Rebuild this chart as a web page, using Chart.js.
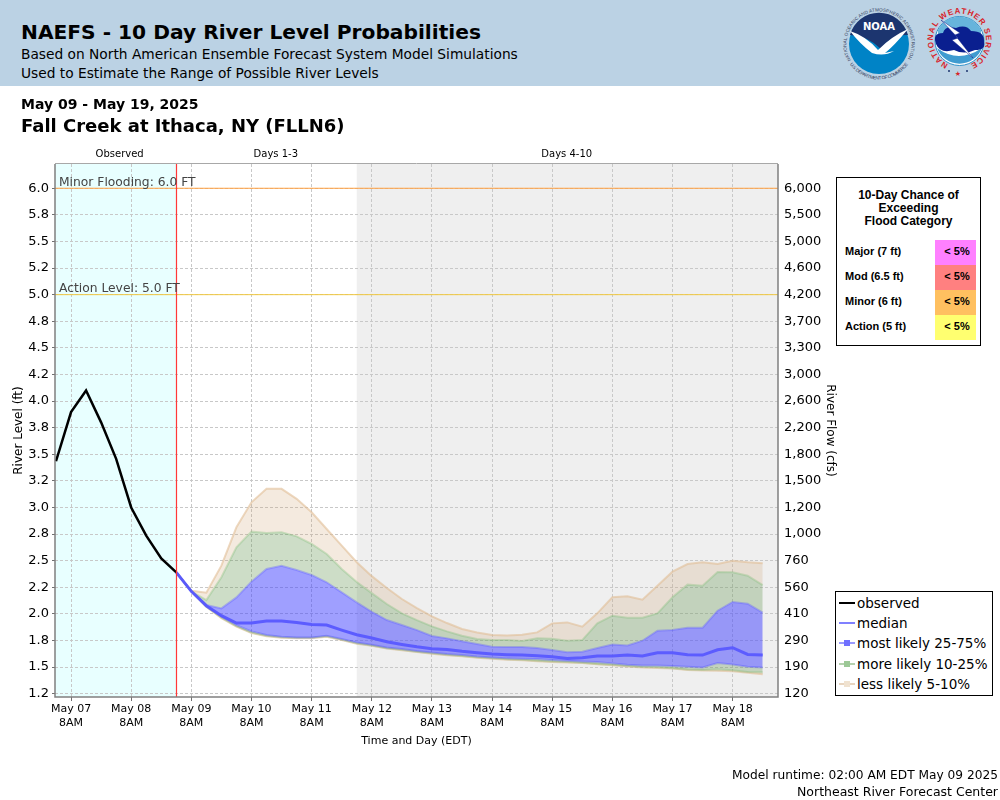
<!DOCTYPE html>
<html>
<head>
<meta charset="utf-8">
<title>NAEFS - 10 Day River Level Probabilities</title>
<script src="https://cdn.jsdelivr.net/npm/chart.js@4/dist/chart.umd.min.js"></script>
<style>
    html, body { margin: 0; padding: 0; background: #fff; }
    body { width: 1000px; height: 800px; position: relative; overflow: hidden; font-family: "DejaVu Sans", sans-serif; color: #000; }
    canvas { position: absolute; left: 0; top: 0; }
    .abs { position: absolute; white-space: nowrap; }
    #header { position: absolute; left: 0; top: 0; width: 1000px; height: 86px; background: #bbd2e4; }
    #logos { position: absolute; left: 830px; top: 0; }

    /* kotak peluang banjir */
    #floodBox { position: absolute; left: 836px; top: 177px; width: 143px; height: 167px; border: 1px solid #000; background: #fff; font-family: "Liberation Sans", sans-serif; font-weight: bold; font-size: 12px; }
    #floodBox .head { position: absolute; left: 0; width: 100%; top: 11px; text-align: center; line-height: 13px; }
    #floodBox .name { position: absolute; left: 8px; font-size: 11px; line-height: 23px; }
    #floodBox .pct { position: absolute; left: 98px; width: 38px; padding-left: 3px; height: 25.3px; font-size: 11px; line-height: 23px; text-align: center; }

    /* legend */
    #legendBox { position: absolute; left: 835px; top: 591px; width: 156px; height: 103px; border: 1px solid #000; background: #fff; font-size: 13.5px; }
    #legendBox .row { position: absolute; left: 21px; line-height: 20px; white-space: nowrap; }
    #legendBox .line { position: absolute; left: 3px; width: 16px; height: 2px; }
    #legendBox .box { position: absolute; left: 8px; width: 6px; height: 6px; }
</style>
</head>
<body>
<canvas id="chartNaefs" width="1000" height="800"></canvas>

<div id="header"></div>
<div class="abs" style="left:21px;top:20px;font-size:20.2px;font-weight:bold;">NAEFS - 10 Day River Level Probabilities</div>
<div class="abs" style="left:21px;top:46px;font-size:13.75px;">Based on North American Ensemble Forecast System Model Simulations</div>
<div class="abs" style="left:21px;top:65px;font-size:13.75px;">Used to Estimate the Range of Possible River Levels</div>
<div class="abs" style="left:21px;top:96px;font-size:14px;font-weight:bold;">May 09 - May 19, 2025</div>
<div class="abs" style="left:21px;top:115px;font-size:18px;font-weight:bold;">Fall Creek at Ithaca, NY (FLLN6)</div>
<div class="abs" style="right:2px;top:768px;font-size:12.2px;">Model runtime: 02:00 AM EDT May 09 2025</div>
<div class="abs" style="right:2px;top:784px;font-size:12.5px;">Northeast River Forecast Center</div>

<!-- logo NOAA dan NWS, digambar seadanya -->
<svg id="logos" width="170" height="86" viewBox="0 0 170 86">
    <defs>
        <path id="noaaTop" d="M 20.9 60.25 A 32.5 32.5 0 1 1 77.1 60.25"/>
        <path id="noaaBottom" d="M 18.3 61.75 A 35.5 35.5 0 0 0 79.7 61.75"/>
        <path id="nwsRing" d="M 118.3 64 A 26.5 26.5 0 1 1 140.7 64"/>
    </defs>
    <text font-family="Liberation Sans" font-size="4.6" fill="#33405c"><textPath href="#noaaTop" textLength="134">NATIONAL OCEANIC AND ATMOSPHERIC ADMINISTRATION</textPath></text>
    <text font-family="Liberation Sans" font-size="4.6" fill="#33405c"><textPath href="#noaaBottom" startOffset="4%" textLength="68">U.S. DEPARTMENT OF COMMERCE</textPath></text>
    <circle cx="49" cy="44" r="30" fill="#0083c6"/>
    <path d="M 20 35 A 30 30 0 0 1 78 35 Q 62 34 51 49 Q 38 36 20 35 Z" fill="#1c356f"/>
    <path d="M 20 31 Q 36 36 48 50 Q 62 36 78 29 Q 64 46 55 53 L 64 51 Q 54 57 42 53 Q 30 44 20 31 Z" fill="#fff"/>
    <text x="49" y="30" text-anchor="middle" font-family="DejaVu Sans" font-weight="bold" font-size="10" fill="#fff">NOAA</text>

    <text font-family="Liberation Sans" font-weight="bold" font-size="8" fill="#d8232a"><textPath href="#nwsRing" textLength="143">NATIONAL WEATHER SERVICE</textPath></text>
    <circle cx="129.5" cy="41" r="24.5" fill="#fff" stroke="#2f8fc8" stroke-width="1"/>
    <path d="M 108 30 A 24 24 0 0 1 151 30 L 151 45 L 108 45 Z" fill="#67b4dc"/>
    <path d="M 107 48 A 24 24 0 0 0 152 48 Q 140 56 129 56 Q 118 56 107 48 Z" fill="#3f9bd0"/>
    <path d="M 106 44 Q 102 33 113 33 Q 115 25 126 28 Q 136 24 141 31 Q 155 31 154 42 Q 156 50 145 50 Q 134 55 124 50 Q 110 54 106 44 Z" fill="#0a1f8f"/>
    <path d="M 111 20 L 130 33 L 125 35 L 143 58 L 122 40 L 128 38 Z" fill="#fff" stroke="#0a1f8f" stroke-width="0.5"/>
    <text x="128" y="76" text-anchor="middle" font-size="7" fill="#d8232a">★</text>
    <circle cx="119" cy="71" r="1" fill="#1c356f"/>
    <circle cx="137" cy="71" r="1" fill="#1c356f"/>
</svg>

<div id="floodBox">
    <div class="head">10-Day Chance of<br>Exceeding<br>Flood Category</div>
</div>

<div id="legendBox"></div>

<script>
// ==========================
// DATA
// ==========================
// jam dihitung dari May 07 8AM
const observedHours = [-6, 0, 6, 12, 18, 24, 30, 36, 42];
const observedLevel = [3.435, 3.896, 4.10, 3.80, 3.457, 3.00, 2.736, 2.522, 2.39];

const forecastHours = [42, 48, 54, 60, 66, 72, 78, 84, 90, 96, 102, 108, 114, 120, 126, 132, 138, 144, 150, 156,
    162, 168, 174, 180, 186, 192, 198, 204, 210, 216, 222, 228, 234, 240, 246, 252, 258, 264, 270, 276];

const p95 = [2.39, 2.218, 2.199, 2.453, 2.814, 3.049, 3.175, 3.175, 3.081, 2.955, 2.798, 2.642, 2.485, 2.355, 2.243, 2.14, 2.055, 1.977, 1.914, 1.858,
    1.826, 1.801, 1.798, 1.804, 1.826, 1.911, 1.92, 1.88, 2.005, 2.156, 2.165, 2.134, 2.265, 2.397, 2.469, 2.485, 2.469, 2.5, 2.485, 2.475];
const p90 = [2.39, 2.212, 2.13, 2.344, 2.626, 2.773, 2.761, 2.767, 2.729, 2.657, 2.563, 2.422, 2.30, 2.195, 2.093, 2.005, 1.942, 1.883, 1.836, 1.795,
    1.764, 1.754, 1.754, 1.745, 1.77, 1.767, 1.748, 1.754, 1.911, 1.983, 1.964, 1.964, 2.005, 2.156, 2.275, 2.265, 2.394, 2.391, 2.359, 2.271];
const p75 = [2.39, 2.212, 2.083, 2.052, 2.155, 2.303, 2.422, 2.453, 2.413, 2.366, 2.297, 2.203, 2.108, 2.02, 1.942, 1.895, 1.848, 1.792, 1.77, 1.742,
    1.717, 1.691, 1.688, 1.688, 1.679, 1.66, 1.64, 1.644, 1.679, 1.713, 1.704, 1.748, 1.842, 1.848, 1.87, 1.87, 2.03, 2.112, 2.096, 2.011];
const p50 = [2.39, 2.212, 2.077, 1.983, 1.914, 1.914, 1.933, 1.933, 1.92, 1.901, 1.895, 1.848, 1.804, 1.773, 1.738, 1.713, 1.691, 1.673, 1.666, 1.648,
    1.635, 1.622, 1.616, 1.613, 1.607, 1.597, 1.582, 1.588, 1.604, 1.604, 1.613, 1.604, 1.635, 1.635, 1.616, 1.613, 1.663, 1.682, 1.619, 1.613];
const p25 = [2.39, 2.212, 2.071, 1.974, 1.895, 1.836, 1.801, 1.785, 1.779, 1.779, 1.795, 1.764, 1.732, 1.71, 1.685, 1.669, 1.651, 1.638, 1.622, 1.613,
    1.60, 1.591, 1.582, 1.579, 1.575, 1.566, 1.56, 1.553, 1.547, 1.535, 1.522, 1.516, 1.516, 1.51, 1.503, 1.497, 1.538, 1.525, 1.503, 1.497];
const p10 = [2.39, 2.212, 2.068, 1.965, 1.885, 1.825, 1.795, 1.78, 1.775, 1.775, 1.79, 1.758, 1.725, 1.703, 1.678, 1.662, 1.645, 1.63, 1.615, 1.605,
    1.592, 1.583, 1.574, 1.568, 1.56, 1.553, 1.548, 1.542, 1.53, 1.522, 1.51, 1.50, 1.498, 1.49, 1.477, 1.472, 1.48, 1.47, 1.455, 1.452];
const p05 = [2.39, 2.212, 2.066, 1.96, 1.88, 1.82, 1.79, 1.776, 1.772, 1.772, 1.786, 1.754, 1.72, 1.70, 1.674, 1.658, 1.641, 1.626, 1.611, 1.601,
    1.588, 1.579, 1.57, 1.564, 1.556, 1.549, 1.544, 1.538, 1.526, 1.518, 1.506, 1.496, 1.492, 1.486, 1.473, 1.468, 1.465, 1.46, 1.447, 1.432];

// tick kiri (stage) dan kanan (flow), rating-nya tidak linear jadi labelnya dibaca langsung
const stageTicks = [6, 5.75, 5.5, 5.25, 5, 4.75, 4.5, 4.25, 4, 3.75, 3.5, 3.25, 3, 2.75, 2.5, 2.25, 2, 1.75, 1.5, 1.25];
const stageLabels = ["6.0", "5.8", "5.5", "5.2", "5.0", "4.8", "4.5", "4.2", "4.0", "3.8", "3.5", "3.2", "3.0", "2.8", "2.5", "2.2", "2.0", "1.8", "1.5", "1.2"];
const flowLabels = ["6,000", "5,500", "5,000", "4,600", "4,200", "3,700", "3,300", "3,000", "2,600", "2,200", "1,800", "1,500", "1,200", "1,000", "760", "560", "410", "290", "190", "120"];

const dayTicks = [0, 24, 48, 72, 96, 120, 144, 168, 192, 216, 240, 264];
const dayLabels = ["May 07", "May 08", "May 09", "May 10", "May 11", "May 12", "May 13", "May 14", "May 15", "May 16", "May 17", "May 18"];

const minorLevel = 6.0;
const actionLevel = 5.0;
const runtimeHour = 42;
const days4Start = 114;

const floodNames = ["Major (7 ft)", "Mod (6.5 ft)", "Minor (6 ft)", "Action (5 ft)"];
const floodChances = ["< 5%", "< 5%", "< 5%", "< 5%"];
const floodColors = ["#ff80ff", "#ff8080", "#ffc060", "#ffff70"];

const legendNames = ["observed", "median", "most likely 25-75%", "more likely 10-25%", "less likely 5-10%"];
const legendLines = ["#000", "#8080ff", "#9a9aff", "#b5d1ae", "#e8d5c0"];
const legendBoxes = [null, null, "#7070ff", "#9cc896", "#f0e2d0"];

const xMin = -6.4, xMax = 282.1, yMin = 1.219, yMax = 6.228;

// warna pita
const BLUE_FILL = "rgba(64, 64, 255, 0.5)", BLUE_LINE = "rgba(90, 90, 255, 0.35)";
const GREEN_FILL = "rgba(100, 150, 80, 0.32)", GREEN_LINE = "rgba(130, 190, 120, 0.35)";
const TAN_FILL = "rgba(205, 160, 110, 0.22)", TAN_LINE = "rgba(225, 190, 150, 0.6)";
const GRID_COLOR = "#c8c8c8";

function toPoints(hours, values) {
    return hours.map((h, i) => ({ x: h, y: values[i] }));
}

function band(values, line, fillTarget, fillColor) {
    return {
        data: toPoints(forecastHours, values),
        borderColor: line,
        borderWidth: 2,
        pointRadius: 0,
        tension: 0,
        fill: fillTarget === null ? false : { target: fillTarget },
        backgroundColor: fillColor || "transparent"
    };
}

// ==========================
// PLUGIN: latar, garis runtime, label
// ==========================
const shadePlugin = {
    id: "shadePlugin",
    beforeDraw(chart) {
        const { ctx, chartArea: a, scales } = chart;
        const runX = scales.x.getPixelForValue(runtimeHour);
        const greyX = scales.x.getPixelForValue(days4Start);
        ctx.save();
        ctx.fillStyle = "#e8ffff";
        ctx.fillRect(a.left, a.top, runX - a.left, a.bottom - a.top);
        ctx.fillStyle = "#efefef";
        ctx.fillRect(greyX, a.top, a.right - greyX, a.bottom - a.top);
        ctx.restore();
    },
    afterDatasetsDraw(chart) {
        const { ctx, chartArea: a, scales } = chart;
        const runX = Math.round(scales.x.getPixelForValue(runtimeHour)) + 0.5;
        ctx.save();

        // garis runtime model
        ctx.strokeStyle = "#ff3838";
        ctx.lineWidth = 1.2;
        ctx.beginPath();
        ctx.moveTo(runX, a.top);
        ctx.lineTo(runX, a.bottom);
        ctx.stroke();

        // bingkai plot
        ctx.strokeStyle = "#a8a8a8";
        ctx.lineWidth = 1;
        ctx.beginPath();
        ctx.moveTo(a.left, a.top - 0.5);
        ctx.lineTo(a.right, a.top - 0.5);
        ctx.stroke();
        ctx.strokeStyle = "#808080";
        ctx.lineWidth = 1.5;
        ctx.beginPath();
        ctx.moveTo(a.left, a.top);
        ctx.lineTo(a.left, a.bottom);
        ctx.lineTo(a.right, a.bottom);
        ctx.lineTo(a.right, a.top);
        ctx.stroke();

        // label banjir
        ctx.fillStyle = "#444";
        ctx.font = '12.3px "DejaVu Sans"';
        ctx.textAlign = "left";
        ctx.textBaseline = "alphabetic";
        ctx.fillText("Minor Flooding: " + minorLevel.toFixed(1) + " FT", a.left + 4, scales.y.getPixelForValue(minorLevel) - 2);
        ctx.fillText("Action Level: " + actionLevel.toFixed(1) + " FT", a.left + 4, scales.y.getPixelForValue(actionLevel) - 3);

        // label periode di atas plot
        ctx.fillStyle = "#000";
        ctx.font = '10px "DejaVu Sans"';
        ctx.textAlign = "center";
        ctx.fillText("Observed", scales.x.getPixelForValue(19.4), a.top - 7);
        ctx.fillText("Days 1-3", scales.x.getPixelForValue(81.7), a.top - 7);
        ctx.fillText("Days 4-10", scales.x.getPixelForValue(197.8), a.top - 7);
        ctx.restore();
    }
};

// ==========================
// GRAFIK
// ==========================
new Chart(document.getElementById("chartNaefs").getContext("2d"), {
    type: "line",
    data: {
        datasets: [
            { data: toPoints(observedHours, observedLevel), borderColor: "#000", borderWidth: 2.5, pointRadius: 0, tension: 0, fill: false, order: 1 },
            { data: toPoints(forecastHours, p50), borderColor: "rgba(85, 85, 255, 0.9)", borderWidth: 3, pointRadius: 0, tension: 0, fill: false, order: 0 },
            Object.assign(band(p75, BLUE_LINE, 3, BLUE_FILL), { order: 2 }),
            Object.assign(band(p25, BLUE_LINE, null), { order: 2 }),
            Object.assign(band(p90, GREEN_LINE, 2, GREEN_FILL), { order: 3 }),
            Object.assign(band(p10, GREEN_LINE, 3, GREEN_FILL), { order: 3 }),
            Object.assign(band(p95, TAN_LINE, 4, TAN_FILL), { order: 4 }),
            Object.assign(band(p05, TAN_LINE, 5, TAN_FILL), { order: 4 }),
            { data: toPoints([xMin, xMax], [minorLevel, minorLevel]), borderColor: "#ffa040", borderWidth: 1, pointRadius: 0, fill: false, order: 5 },
            { data: toPoints([xMin, xMax], [actionLevel, actionLevel]), borderColor: "#f0c840", borderWidth: 1, pointRadius: 0, fill: false, order: 5 }
        ]
    },
    options: {
        responsive: false,
        devicePixelRatio: 1,
        animation: false,
        layout: { padding: { left: 0, top: 164, right: 162, bottom: 52 } },
        plugins: { legend: { display: false }, tooltip: { enabled: false } },
        scales: {
            x: {
                type: "linear",
                min: xMin,
                max: xMax,
                afterBuildTicks: s => { s.ticks = dayTicks.map(v => ({ value: v })); },
                afterFit: s => { s.height = 51; },
                grid: { color: GRID_COLOR, tickColor: "#707070", tickLength: 4 },
                border: { display: false, dash: [3, 2] },
                ticks: {
                    maxRotation: 0,
                    autoSkip: false,
                    color: "#000",
                    padding: 2,
                    font: { family: "DejaVu Sans", size: 11 },
                    callback: (v) => [dayLabels[dayTicks.indexOf(v)], "8AM"]
                },
                title: { display: true, text: "Time and Day (EDT)", color: "#000", font: { family: "DejaVu Sans", size: 11 }, padding: { top: 0, bottom: 0 } }
            },
            y: {
                position: "left",
                min: yMin,
                max: yMax,
                afterBuildTicks: s => { s.ticks = stageTicks.map(v => ({ value: v })); },
                afterFit: s => { s.width = 55; },
                grid: { color: GRID_COLOR, tickColor: "#707070", tickLength: 3 },
                border: { display: false, dash: [3, 2] },
                ticks: {
                    autoSkip: false,
                    color: "#000",
                    padding: 3,
                    font: { family: "DejaVu Sans", size: 13 },
                    callback: (v) => stageLabels[stageTicks.indexOf(v)]
                },
                title: { display: true, text: "River Level (ft)", color: "#000", font: { family: "DejaVu Sans", size: 12 }, padding: { top: 12, bottom: 0 } }
            },
            yFlow: {
                position: "right",
                min: yMin,
                max: yMax,
                afterBuildTicks: s => { s.ticks = stageTicks.map(v => ({ value: v })); },
                afterFit: s => { s.width = 60; },
                grid: { display: false, tickColor: "#707070", tickLength: 3 },
                border: { display: false },
                ticks: {
                    autoSkip: false,
                    color: "#000",
                    padding: 3,
                    font: { family: "DejaVu Sans", size: 13 },
                    callback: (v) => flowLabels[stageTicks.indexOf(v)]
                },
                title: { display: true, text: "River Flow (cfs)", color: "#000", font: { family: "DejaVu Sans", size: 12 }, padding: { top: 1, bottom: 0 } }
            }
        }
    },
    plugins: [shadePlugin]
});

// ==========================
// KOTAK PELUANG BANJIR + LEGEND
// ==========================
const floodBox = document.getElementById("floodBox");
floodNames.forEach((name, i) => {
    const rowTop = 62 + i * 25;
    floodBox.insertAdjacentHTML("beforeend",
        '<div class="name" style="top:' + rowTop + 'px">' + name + '</div>' +
        '<div class="pct" style="top:' + rowTop + 'px;background:' + floodColors[i] + '">' + floodChances[i].replace("<", "&lt;") + '</div>');
});

const legendBox = document.getElementById("legendBox");
legendNames.forEach((name, i) => {
    const rowTop = 1 + i * 20.2;
    let html = '<div class="line" style="top:' + (rowTop + 9) + 'px;background:' + legendLines[i] + '"></div>';
    if (legendBoxes[i]) {
        html += '<div class="box" style="top:' + (rowTop + 7) + 'px;background:' + legendBoxes[i] + '"></div>';
    }
    html += '<div class="row" style="top:' + rowTop + 'px">' + name + '</div>';
    legendBox.insertAdjacentHTML("beforeend", html);
});
</script>
</body>
</html>
